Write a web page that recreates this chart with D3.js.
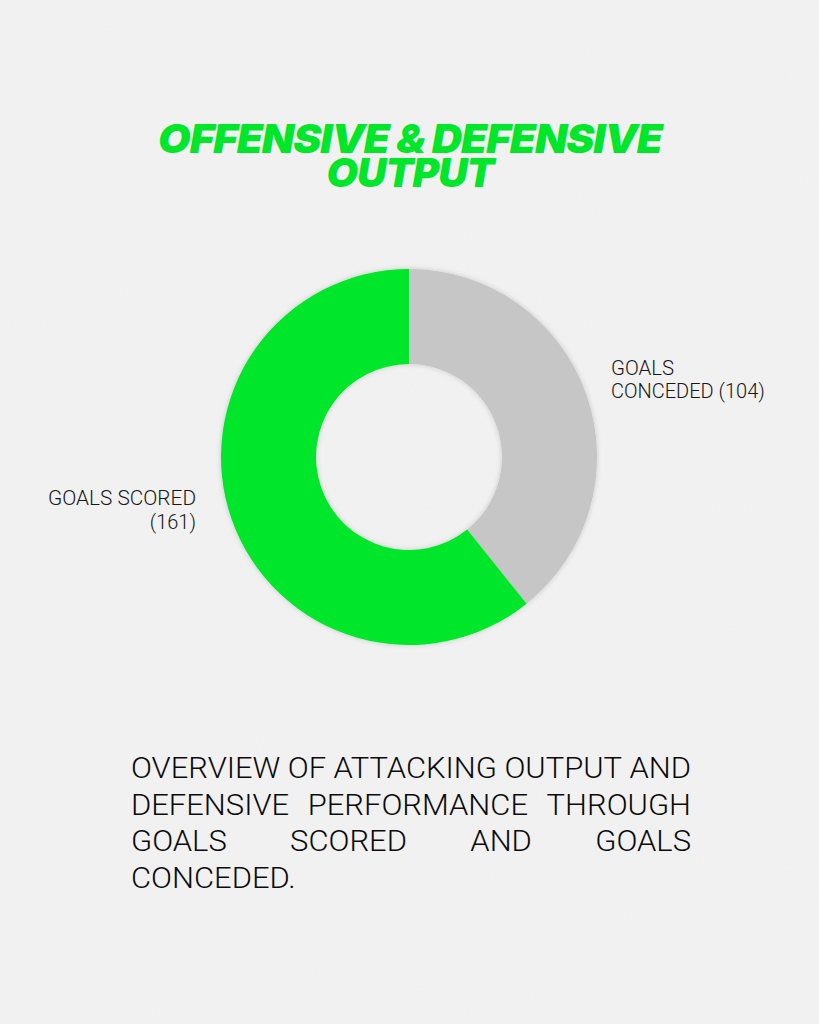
<!DOCTYPE html>
<html><head><meta charset="utf-8">
<script src="https://cdn.jsdelivr.net/npm/d3@7"></script>
<style>
html,body{margin:0;padding:0;background:#efefef;}
svg{display:block;}
</style></head>
<body>
<script>
const titleLines = ["OFFENSIVE & DEFENSIVE", "OUTPUT"];
const categories = ["GOALS CONCEDED", "GOALS SCORED"];
const values = [104, 161];
const colors = ["#c6c6c6", "#00e62a"];
const labelLines = [["GOALS", "CONCEDED (104)"], ["GOALS SCORED", "(161)"]];
const captionLines = ["OVERVIEW OF ATTACKING OUTPUT AND", "DEFENSIVE PERFORMANCE THROUGH", "GOALS SCORED AND GOALS", "CONCEDED."];

const W = 819, H = 1024;
const svg = d3.select("body").append("svg").attr("width", W).attr("height", H);
const defs = svg.append("defs");
const noise = defs.append("filter").attr("id","noise").attr("x",0).attr("y",0).attr("width","100%").attr("height","100%");
noise.append("feTurbulence").attr("type","fractalNoise").attr("baseFrequency",0.9).attr("numOctaves",2).attr("seed",3).attr("result","t");
noise.append("feColorMatrix").attr("type","matrix").attr("values","0 0 0 0 0.5  0 0 0 0 0.5  0 0 0 0 0.5  0 0 0 0.08 0");
const sh = defs.append("filter").attr("id","shadow").attr("x","-20%").attr("y","-20%").attr("width","140%").attr("height","140%");
sh.append("feDropShadow").attr("dx",0).attr("dy",0).attr("stdDeviation",2.5).attr("flood-color","#000").attr("flood-opacity",0.18);

svg.append("rect").attr("width",W).attr("height",H).attr("fill","#f3f3f3");
svg.append("rect").attr("width",W).attr("height",H).attr("filter","url(#noise)");

// Title (one text element, two lines)
const titleBase = [153, 187];
const titleWidths = [504, 167];
const title = svg.append("text")
  .attr("text-anchor","middle")
  .style("font-family","Inter, 'Noto Sans', sans-serif")
  .style("font-weight",900).style("font-style","italic")
  .style("font-size","40px").style("letter-spacing","-1px")
  .attr("fill","#00e62a");
titleLines.forEach((t,i)=>{
  title.append("tspan").attr("x",410).attr("y",titleBase[i])
    .attr("textLength",titleWidths[i]).attr("lengthAdjust","spacingAndGlyphs").text(t);
});

// Donut
const cx = 409, cy = 457, rOuter = 188, rInner = 93;
const pie = d3.pie().sort(null).value(d=>d)(values);
const arc = d3.arc().innerRadius(rInner).outerRadius(rOuter);
const g = svg.append("g").attr("transform",`translate(${cx},${cy})`).attr("filter","url(#shadow)");
g.selectAll("path").data(pie).join("path").attr("d",arc).attr("fill",(d,i)=>colors[i]);

// Labels
const lblStyle = sel => sel.style("font-family","Roboto, 'Liberation Sans', sans-serif")
  .style("font-weight",300).style("font-size","20px").attr("fill","#161616");
function labelText(parent, x, y, txt, anchor, sx){
  const t = parent.append("text").attr("x",0).attr("y",0).attr("text-anchor",anchor).text(txt).call(lblStyle);
  t.attr("transform",`translate(${x},${y}) scale(${sx},1)`);
  return t;
}
const lg = svg.append("g");
labelText(lg, 611, 375, labelLines[0][0], "start", 1.02);
labelText(lg, 611, 398, labelLines[0][1], "start", 1.0);
labelText(lg, 196, 505, labelLines[1][0], "end", 1.04);
labelText(lg, 196, 529, labelLines[1][1], "end", 1.0);

// Caption (justified)
const cap = svg.append("g");
const left = 131, right = 691;
const capBaselines = [778, 815, 851, 888];
const fs = 30;
function capStyle(sel){ return sel.style("font-family","Roboto, 'Liberation Sans', sans-serif").style("font-weight",300).style("font-size",fs+"px").attr("fill","#0a0a0a"); }
const probe = cap.append("text").text(captionLines[0]).call(capStyle);
const sx = (right-left)/probe.node().getComputedTextLength();
probe.remove();
const spaceP = cap.append("text").text("a a").call(capStyle);
const aP = cap.append("text").text("aa").call(capStyle);
const spaceW = (spaceP.node().getComputedTextLength()-aP.node().getComputedTextLength())*sx;
spaceP.remove(); aP.remove();
captionLines.forEach((line,li)=>{
  const words = line.split(" ");
  const ws = words.map(w=>{
    const p = cap.append("text").text(w).call(capStyle);
    const l = p.node().getComputedTextLength()*sx; p.remove(); return l;
  });
  const last = li === captionLines.length-1;
  const total = ws.reduce((a,b)=>a+b,0);
  const gap = (last || words.length<2) ? spaceW : (right-left-total)/(words.length-1);
  let x = left;
  words.forEach((w,wi)=>{
    cap.append("text").attr("x",0).attr("y",0).text(w).call(capStyle)
      .attr("transform",`translate(${x},${capBaselines[li]}) scale(${sx},1)`);
    x += ws[wi] + gap;
  });
});
</script>
</body></html>
